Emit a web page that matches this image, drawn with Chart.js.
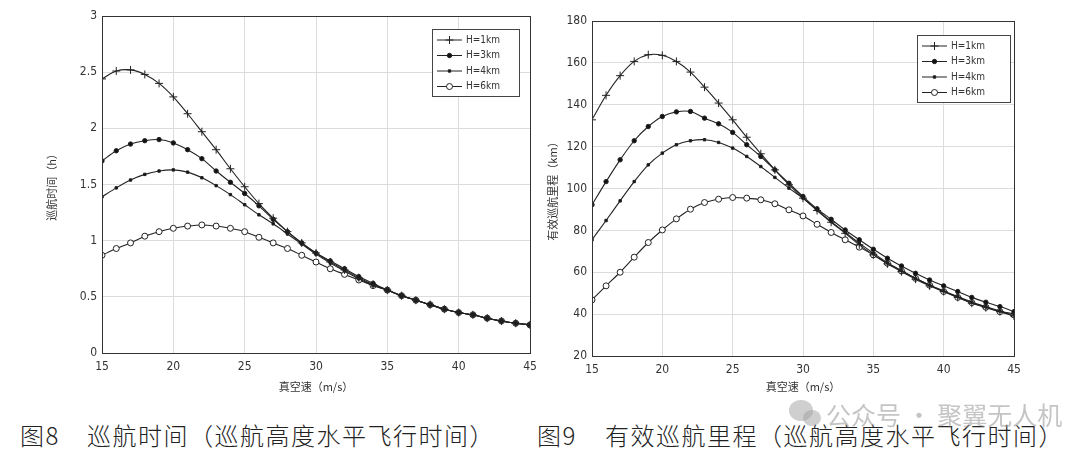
<!DOCTYPE html>
<html>
<head>
<meta charset="utf-8">
<script src="https://cdn.jsdelivr.net/npm/chart.js@4/dist/chart.umd.min.js"></script>
<style>
  body { margin: 0; background: #fff; width: 1080px; height: 461px; overflow: hidden; position: relative; }
  .box { position: absolute; top: 0; height: 400px; }
  .cap { position: absolute; top: 420px; font-family: "Noto Sans CJK SC", sans-serif; font-size: 24px; font-weight: 300; color: #222; letter-spacing: 1.5px; white-space: nowrap; line-height: 30px; }
  .wm { position: absolute; top: 396px; left: 826px; font-family: "Noto Sans CJK SC", sans-serif; font-size: 25px; color: rgba(150,150,150,0.55); white-space: nowrap; }
  .dot { position: absolute; border-radius: 50%; background: rgba(160,160,160,0.5); }
</style>
</head>
<body>
<div class="box" style="left:0;width:545px"><canvas id="left"></canvas></div>
<div class="box" style="left:540px;width:540px"><canvas id="right"></canvas></div>
<div class="cap" style="left:20px">图8</div>
<div class="cap" style="left:87px">巡航时间（巡航高度水平飞行时间）</div>
<div class="cap" style="left:537px">图9</div>
<div class="cap" style="left:605px">有效巡航里程（巡航高度水平飞行时间）</div>
<div class="dot" style="left:789px;top:400px;width:24px;height:21px"></div>
<div class="dot" style="left:803px;top:410px;width:18px;height:16px"></div>
<div class="wm">公众号 · 聚翼无人机</div>
<script>
// 真空速 (m/s)
const speeds = [15,16,17,18,19,20,21,22,23,24,25,26,27,28,29,30,31,32,33,34,35,36,37,38,39,40,41,42,43,44,45];
const seriesNames = ['H=1km', 'H=3km', 'H=4km', 'H=6km'];

// 图8 巡航时间 (h)
const timeH1 = [2.44,2.51,2.52,2.48,2.40,2.28,2.13,1.97,1.81,1.64,1.48,1.33,1.20,1.08,0.98,0.89,0.81,0.74,0.67,0.61,0.56,0.51,0.47,0.43,0.39,0.36,0.34,0.31,0.285,0.265,0.25];
const timeH3 = [1.71,1.80,1.86,1.89,1.90,1.87,1.81,1.73,1.62,1.52,1.42,1.31,1.19,1.08,0.98,0.89,0.82,0.75,0.68,0.62,0.56,0.51,0.47,0.43,0.39,0.36,0.34,0.31,0.285,0.265,0.25];
const timeH4 = [1.39,1.47,1.54,1.59,1.62,1.63,1.61,1.56,1.49,1.41,1.32,1.23,1.15,1.06,0.97,0.88,0.80,0.73,0.66,0.60,0.56,0.51,0.47,0.43,0.39,0.36,0.34,0.31,0.285,0.265,0.25];
const timeH6 = [0.87,0.93,0.98,1.04,1.08,1.11,1.13,1.14,1.13,1.11,1.08,1.03,0.98,0.93,0.87,0.81,0.75,0.70,0.65,0.60,0.56,0.51,0.47,0.43,0.39,0.36,0.34,0.31,0.285,0.265,0.25];

// 图9 有效巡航里程 (km)
const rangeH1 = [132.8,144.5,153.9,160.7,163.9,163.6,160.7,155.6,148.4,140.8,132.8,124.5,116.6,108.9,101.8,95.4,89.5,83.9,78.6,73.1,68.3,64.0,60.3,56.7,53.5,50.8,48.0,45.2,43.1,41.2,39.1];
const rangeH3 = [92.2,103.3,113.7,122.8,129.6,134.4,136.6,136.8,133.6,130.9,126.8,120.9,115.3,108.9,102.5,96.2,90.3,85.3,80.2,75.5,71.0,66.7,63.0,59.5,56.3,53.5,50.8,48.0,45.7,43.6,41.2];
const rangeH4 = [75.5,84.7,94.1,103.3,111.3,116.9,120.9,122.8,123.3,122.0,119.3,115.3,110.5,105.3,100.2,95.4,89.8,84.2,79.0,73.9,69.1,64.6,60.8,57.1,53.9,51.1,48.4,45.7,43.6,41.5,40.1];
const rangeH6 = [46.8,53.5,60.0,67.2,74.2,80.2,85.5,90.1,93.3,94.9,95.7,95.4,94.6,92.7,89.8,86.9,82.9,79.0,75.5,72.0,68.3,64.3,60.6,57.1,53.8,50.8,48.0,45.5,43.3,41.2,39.6];

const markers = [
  { pointStyle: 'cross', radius: 4, bg: '#222' },
  { pointStyle: 'circle', radius: 2.2, bg: '#111' },
  { pointStyle: 'rect', radius: 1.7, bg: '#111' },
  { pointStyle: 'circle', radius: 3, bg: '#fff' }
];

const tickFont = { family: "'Liberation Sans Narrow', 'DejaVu Sans Condensed', sans-serif", size: 12 };
const titleFont = { family: "'Noto Sans CJK SC', sans-serif", size: 11 };

function makeDatasets(series) {
  return series.map((vals, i) => ({
    label: seriesNames[i],
    data: speeds.map((s, j) => ({ x: s, y: vals[j] })),
    borderColor: '#222',
    borderWidth: 1.1,
    pointStyle: markers[i].pointStyle,
    pointRadius: markers[i].radius,
    pointBackgroundColor: markers[i].bg,
    pointBorderColor: '#222',
    pointBorderWidth: 1,
    tension: 0.3
  }));
}

// frame + legend box drawn inside the plot, like the matlab figure
const frameLegend = {
  id: 'frameLegend',
  afterDraw(chart, args, opts) {
    const { ctx, chartArea: a } = chart;
    ctx.save();
    ctx.strokeStyle = '#333';
    ctx.lineWidth = 1;
    ctx.strokeRect(a.left + 0.5, a.top + 0.5, a.right - a.left, a.bottom - a.top);
    const bx = a.right - opts.right - opts.w, by = a.top + opts.top;
    ctx.fillStyle = '#fff';
    ctx.fillRect(bx, by, opts.w, opts.h);
    ctx.strokeStyle = '#444';
    ctx.strokeRect(bx + 0.5, by + 0.5, opts.w, opts.h);
    ctx.font = "10px 'Liberation Sans Narrow', 'DejaVu Sans Condensed', sans-serif";
    ctx.textBaseline = 'middle';
    chart.data.datasets.forEach((ds, i) => {
      const y = by + 11 + i * 15.5;
      ctx.strokeStyle = '#222';
      ctx.beginPath();
      ctx.moveTo(bx + 5, y);
      ctx.lineTo(bx + 30, y);
      ctx.stroke();
      const m = markers[i];
      ctx.fillStyle = m.bg;
      ctx.strokeStyle = '#222';
      Chart.helpers.drawPoint(ctx, { pointStyle: m.pointStyle, radius: m.radius, borderWidth: 1 }, bx + 17.5, y);
      ctx.fillStyle = '#333';
      ctx.fillText(ds.label, bx + 34, y);
    });
    ctx.restore();
  }
};

function makeChart(id, series, cfg) {
  return new Chart(document.getElementById(id), {
    type: 'line',
    data: { datasets: makeDatasets(series) },
    options: {
      responsive: false,
      animation: false,
      devicePixelRatio: 1,
      layout: { padding: { top: cfg.top, right: cfg.right, left: 0, bottom: 0 } },
      plugins: { legend: { display: false }, tooltip: { enabled: false }, frameLegend: cfg.legend },
      scales: {
        x: {
          type: 'linear', min: 15, max: 45,
          ticks: { stepSize: 5, color: '#333', font: tickFont, padding: 7 },
          grid: { color: '#dcdcdc', drawTicks: false },
          border: { color: '#333' },
          title: { display: true, text: '真空速（m/s）', color: '#333', font: titleFont, padding: { top: 0, bottom: 7 } },
          afterFit: s => { s.height = cfg.xh; }
        },
        y: {
          min: cfg.ymin, max: cfg.ymax,
          ticks: { stepSize: cfg.ystep, color: '#333', font: tickFont, padding: 5, callback: v => String(v) },
          grid: { color: '#dcdcdc', drawTicks: false },
          border: { color: '#333' },
          title: { display: true, text: cfg.ytitle, color: '#333', font: titleFont, padding: { top: cfg.ytp, bottom: 0 } },
          afterFit: s => { s.width = cfg.yw; }
        }
      }
    },
    plugins: [frameLegend]
  });
}

const lc = document.getElementById('left'); lc.width = 545; lc.height = 400;
const rc = document.getElementById('right'); rc.width = 540; rc.height = 400;

makeChart('left', [timeH1, timeH3, timeH4, timeH6], {
  top: 16, right: 15, xh: 47, yw: 102, ymin: 0, ymax: 3, ystep: 0.5,
  ytitle: '巡航时间（h）', ytp: 45,
  legend: { right: 11, top: 13, w: 87, h: 67 }
});
makeChart('right', [rangeH1, rangeH3, rangeH4, rangeH6], {
  top: 21, right: 66, xh: 44, yw: 52, ymin: 20, ymax: 180, ystep: 20,
  ytitle: '有效巡航里程（km）', ytp: 6,
  legend: { right: 4, top: 14, w: 93, h: 67 }
});
</script>
</body>
</html>
